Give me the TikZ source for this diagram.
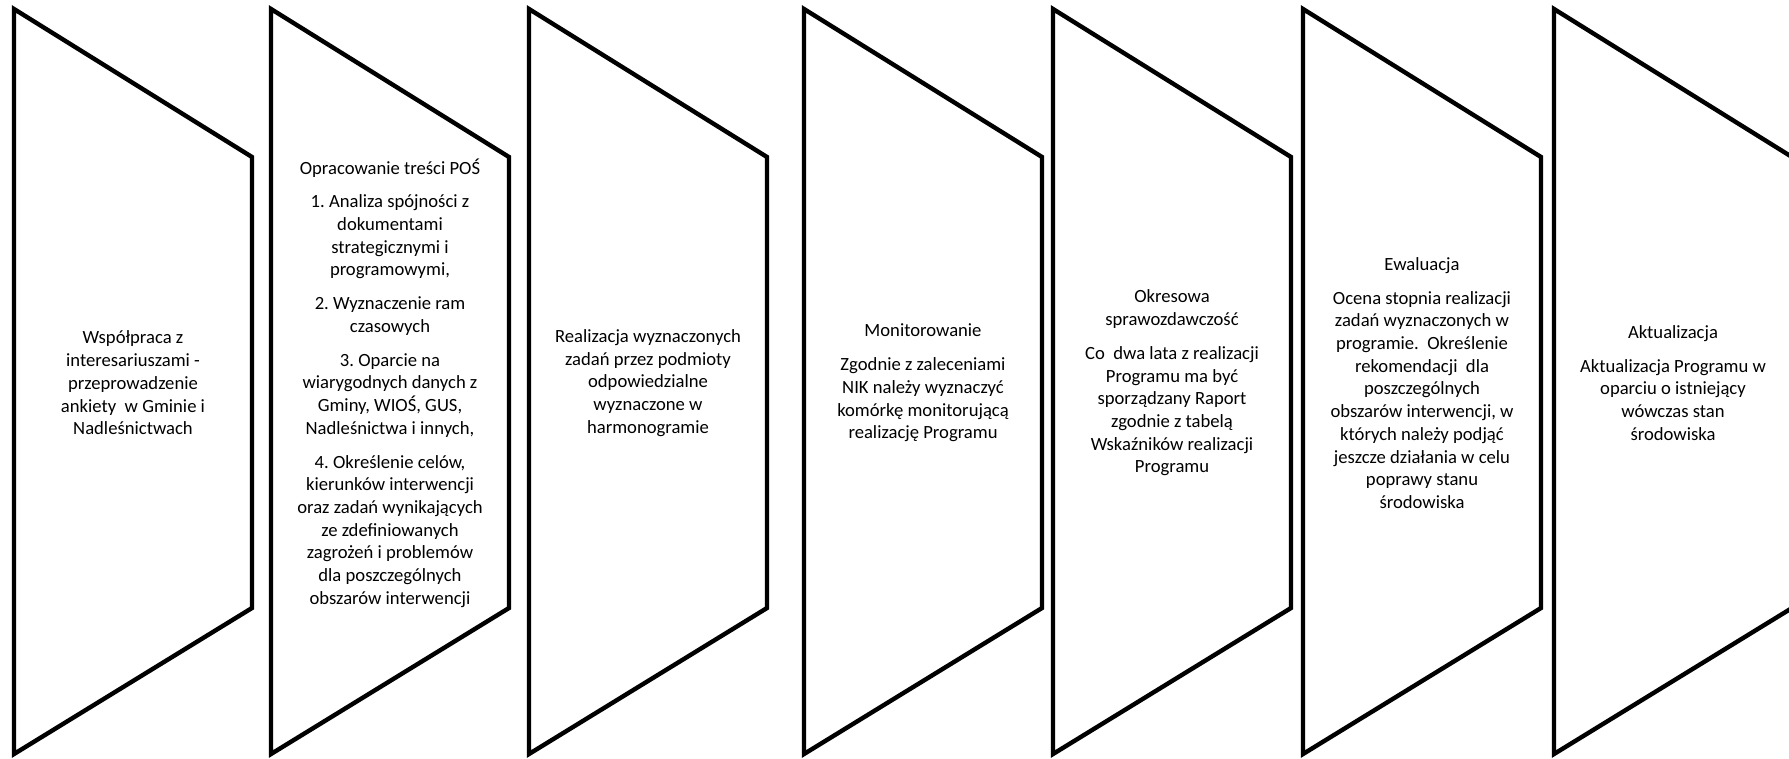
\documentclass[tikz,border=0pt]{standalone}
\usepackage{fontspec}
\setmainfont{Carlito}
\frenchspacing
\tikzset{
    stage/.style={draw=black, line width=2.6pt, line join=miter, fill=white},
    stagetext/.style={align=center, inner sep=0pt, font=\fontsize{11pt}{13.4pt}\selectfont}
}
% #1 node name, #2 left edge, #3 text
\newcommand{\stageshape}[3] {
	\draw[stage] (#2,9) -- (#2+238,157) -- (#2+238,608) -- (#2,754) -- cycle;
	\node[stagetext] (#1) at (#2+119,383) {#3};
}

\begin{document}
\begin{tikzpicture}[x=0.59pt, y=-0.59pt]
		\clip (0,0) rectangle (1789,758);

		% Preparation
		\stageshape{wspolpraca}{14}{Współpraca z\\ interesariuszami -\\ przeprowadzenie\\ ankiety\ \ w Gminie i\\ Nadleśnictwach}
		\stageshape{opracowanie}{271}{Opracowanie treści POŚ\\[6.5pt] 1. Analiza spójności z\\ dokumentami\\ strategicznymi i\\ programowymi,\\[6.5pt] 2. Wyznaczenie ram\\ czasowych\\[6.5pt] 3. Oparcie na\\ wiarygodnych danych z\\ Gminy, WIOŚ, GUS,\\ Nadleśnictwa i innych,\\[6.5pt] 4. Określenie celów,\\ kierunków interwencji\\ oraz zadań wynikających\\ ze zdefiniowanych\\ zagrożeń i problemów\\ dla poszczególnych\\ obszarów interwencji}

		% Implementation and control
		\stageshape{realizacja}{529}{Realizacja wyznaczonych\\ zadań przez podmioty\\ odpowiedzialne\\ wyznaczone w\\ harmonogramie}
		\stageshape{monitorowanie}{804}{Monitorowanie\\[6.5pt] Zgodnie z zaleceniami\\ NIK należy wyznaczyć\\ komórkę monitorującą\\ realizację Programu}
		\stageshape{sprawozdawczosc}{1053}{Okresowa\\ sprawozdawczość\\[6.5pt] Co\ \ dwa lata z realizacji\\ Programu ma być\\ sporządzany Raport\\ zgodnie z tabelą\\ Wskaźników realizacji\\ Programu}

		% Review
		\stageshape{ewaluacja}{1303}{Ewaluacja\\[6.5pt] Ocena stopnia realizacji\\ zadań wyznaczonych w\\ programie.\ \ Określenie\\ rekomendacji\ \ dla\\ poszczególnych\\ obszarów interwencji, w\\ których należy podjąć\\ jeszcze działania w celu\\ poprawy stanu\\ środowiska}
		\stageshape{aktualizacja}{1554}{Aktualizacja\\[6.5pt] Aktualizacja Programu w\\ oparciu o istniejący\\ wówczas stan\\ środowiska}

	\end{tikzpicture}
\end{document}
